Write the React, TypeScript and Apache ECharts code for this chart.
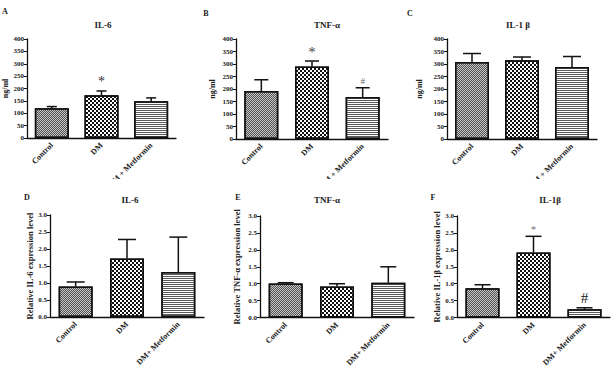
import React, { useEffect, useRef } from "react";
import * as echarts from "echarts";

const topCategories = ["Control", "DM", "DM + Metformin"];
const bottomCategories = ["Control", "DM", "DM+ Metformin"];

const il6Serum = [120, 173, 148];
const il6SerumErr = [7, 17, 14];
const tnfSerum = [192, 290, 168];
const tnfSerumErr = [45, 22, 37];
const il1bSerum = [308, 315, 288];
const il1bSerumErr = [34, 13, 42];

const il6Rel = [0.9, 1.72, 1.32];
const il6RelErr = [0.13, 0.56, 1.03];
const tnfRel = [1.01, 0.92, 1.03];
const tnfRelErr = [0.02, 0.08, 0.47];
const il1bRel = [0.87, 1.92, 0.25];
const il1bRelErr = [0.1, 0.48, 0.04];

const marksA = ["", "*", ""];
const marksB = ["", "*", "#"];
const marksC = ["", "", ""];
const marksD = ["", "", ""];
const marksE = ["", "", ""];
const marksF = ["", "*", "#"];

const topTicks = ["0", "50", "100", "150", "200", "250", "300", "350", "400"];
const bottomTicks = ["0.0", "0.5", "1.0", "1.5", "2.0", "2.5", "3.0"];

const panelTitles = ["IL-6", "TNF-α", "IL-1 β", "IL-6", "TNF-α", "IL-1β"];
const panelLetters = ["A", "B", "C", "D", "E", "F"];
const topYName = "ng/ml";
const bottomYNames = [
  "Relative IL-6 expression level",
  "Relative TNF-α expression level",
  "Relative IL-1β expression level",
];

const FONT = "'Liberation Serif', 'DejaVu Serif', serif";

export default function App() {
  const ref = useRef<HTMLDivElement>(null);
  useEffect(() => {
    document.body.style.margin = "0";
    if (!ref.current) return;
    const chart = echarts.init(ref.current, null, { renderer: "svg" });

    const grids = [
      { left: 26, top: 39, width: 150, height: 99 },
      { left: 236, top: 39, width: 152, height: 100 },
      { left: 447, top: 39, width: 150, height: 100 },
      { left: 50, top: 215, width: 154, height: 102 },
      { left: 260, top: 216, width: 154, height: 102 },
      { left: 457, top: 216, width: 153, height: 102 },
    ];
    const values = [il6Serum, tnfSerum, il1bSerum, il6Rel, tnfRel, il1bRel];
    const errs = [il6SerumErr, tnfSerumErr, il1bSerumErr, il6RelErr, tnfRelErr, il1bRelErr];
    const marks = [marksA, marksB, marksC, marksD, marksE, marksF];
    const nameGaps = [18, 20, 24, 16, 19, 13];
    const capHalf = [5, 7, 9, 9, 8, 8];
    const markSize: any[] = [
      { "*": 14, "#": 10 },
      { "*": 14, "#": 9 },
      { "*": 13, "#": 13 },
      { "*": 13, "#": 13 },
      { "*": 13, "#": 13 },
      { "*": 11, "#": 15 },
    ];
    const markColor: any[] = [
      { "*": "#333", "#": "#333" },
      { "*": "#444", "#": "#666" },
      { "*": "#333", "#": "#333" },
      { "*": "#333", "#": "#333" },
      { "*": "#333", "#": "#333" },
      { "*": "#777", "#": "#222" },
    ];

    const barFill = ["#c4c4c4", "#fff", "#fff"];
    const decals = [
      { symbol: "rect", symbolSize: 1, color: "#555", dashArrayX: [[1, 1], [0, 1, 1, 0]], dashArrayY: [1, 0], rotation: 0 },
      { symbol: "rect", symbolSize: 1, color: "#111", dashArrayX: [[2, 2], [0, 2, 2, 0]], dashArrayY: [2, 0], rotation: 0 },
      { symbol: "rect", symbolSize: 1, color: "#5a5a5a", dashArrayX: [[1, 0]], dashArrayY: [1, 1], rotation: 0 },
    ];

    const xAxis: any[] = [];
    const yAxis: any[] = [];
    const series: any[] = [];
    grids.forEach((g, k) => {
      const top = k < 3;
      const ticks = top ? topTicks : bottomTicks;
      const step = top ? 50 : 0.5;
      xAxis.push({
        type: "category",
        gridIndex: k,
        data: top ? topCategories : bottomCategories,
        axisLine: { lineStyle: { color: "#111", width: 1.3 } },
        axisTick: { alignWithLabel: true, length: 3, lineStyle: { color: "#111" } },
        axisLabel: { rotate: 45, fontSize: 8, fontWeight: "bold", fontFamily: FONT, color: "#222", margin: 6 },
      });
      yAxis.push({
        type: "value",
        gridIndex: k,
        min: 0,
        max: top ? 400 : 3,
        interval: step,
        splitLine: { show: false },
        axisLine: { show: true, lineStyle: { color: "#111", width: 1.3 } },
        axisTick: { show: true, length: 3, lineStyle: { color: "#111" } },
        axisLabel: {
          fontSize: 7,
          fontWeight: "bold",
          fontFamily: FONT,
          color: "#222",
          margin: 3,
          formatter: (v: any) => {
            const idx = Math.round(Number(v) / step);
            return ticks[idx] !== undefined ? ticks[idx] : String(v);
          },
        },
        name: top ? topYName : bottomYNames[k - 3],
        nameLocation: "middle",
        nameRotate: 90,
        nameGap: nameGaps[k],
        nameTextStyle: { fontSize: top ? 8 : 8.5, fontWeight: "bold", fontFamily: FONT, color: "#222" },
      });
      series.push({
        type: "bar",
        xAxisIndex: k,
        yAxisIndex: k,
        barWidth: 34,
        data: values[k].map((v, i) => ({
          value: v,
          itemStyle: { color: barFill[i], borderColor: "#111", borderWidth: 1.5, decal: decals[i] },
        })),
        z: 2,
      });
      const mk = marks[k];
      const hw = capHalf[k];
      const ms = markSize[k];
      const mc = markColor[k];
      series.push({
        type: "custom",
        xAxisIndex: k,
        yAxisIndex: k,
        z: 5,
        data: values[k].map((v, i) => [i, v, errs[k][i]]),
        renderItem: (params: any, api: any) => {
          const i = api.value(0);
          const v = api.value(1);
          const e = api.value(2);
          const b = api.coord([i, v]);
          const t = api.coord([i, v + e]);
          const children: any[] = [
            { type: "line", shape: { x1: b[0], y1: b[1], x2: t[0], y2: t[1] }, style: { stroke: "#111", lineWidth: 1.5 } },
            { type: "line", shape: { x1: t[0] - hw, y1: t[1], x2: t[0] + hw, y2: t[1] }, style: { stroke: "#111", lineWidth: 1.5 } },
          ];
          const m = mk[params.dataIndex];
          if (m) {
            children.push({
              type: "text",
              style: {
                text: m,
                x: t[0],
                y: t[1] - 2,
                align: "center",
                verticalAlign: "bottom",
                fontSize: ms[m],
                fontFamily: FONT,
                fill: mc[m],
              },
            });
          }
          return { type: "group", children };
        },
      });
    });

    const titlePos = [
      [103, 25], [327, 25], [518, 25], [130, 200], [327, 200], [550, 200],
    ];
    const letterPos = [
      [5, 11], [206, 13], [410, 13], [27, 197], [238, 197], [433, 197],
    ];
    const graphic: any[] = [
      { type: "rect", shape: { x: 0, y: 179, width: 614, height: 13 }, style: { fill: "#fff" }, z: 100 },
    ];
    panelTitles.forEach((t, k) => {
      graphic.push({
        type: "text",
        x: titlePos[k][0],
        y: titlePos[k][1],
        style: { text: t, align: "center", verticalAlign: "middle", fontSize: 9, fontWeight: "bold", fontFamily: FONT, fill: "#222" },
        z: 101,
      });
      graphic.push({
        type: "text",
        x: letterPos[k][0],
        y: letterPos[k][1],
        style: { text: panelLetters[k], align: "center", verticalAlign: "middle", fontSize: 8, fontWeight: "bold", fontFamily: FONT, fill: "#222" },
        z: 101,
      });
    });

    chart.setOption({
      animation: false,
      backgroundColor: "#fff",
      grid: grids,
      xAxis,
      yAxis,
      series,
      graphic,
    });
    return () => chart.dispose();
  }, []);
  return <div ref={ref} style={{ width: 614, height: 369 }} />;
}
